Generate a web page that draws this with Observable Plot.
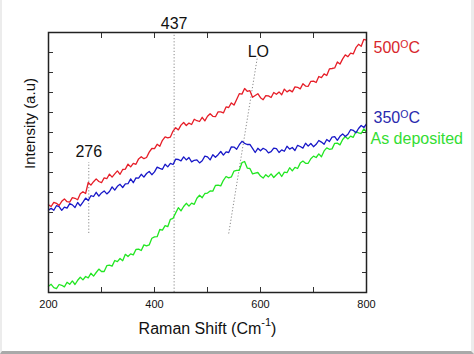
<!DOCTYPE html>
<html><head><meta charset="utf-8">
<script src="https://cdn.jsdelivr.net/npm/d3@7"></script>
<script src="https://cdn.jsdelivr.net/npm/@observablehq/plot@0.6"></script>
<style>
body{margin:0;background:#fff;}
#wrap{position:relative;width:474px;height:354px;overflow:hidden;background:#fff;}
#wrap::after{content:"";position:absolute;left:0;top:0;width:474px;height:354px;box-sizing:border-box;border-left:2px solid #ececec;border-right:3px solid #ececec;border-bottom:3px solid #a9a9a9;pointer-events:none;}
svg{display:block;}
</style></head><body><div id="wrap"></div>
<script>
// Raman shift grid (cm^-1), one sample every 5 cm^-1
const shift = d3.range(200, 801, 5);

// 500 °C annealed film
const s500 = [4.38,4.30,4.51,4.46,4.35,4.56,4.68,4.54,4.52,4.74,4.71,4.64,4.94,5.04,4.95,5.50,5.37,5.54,5.68,5.55,
5.49,5.73,5.69,5.92,5.77,5.93,6.08,5.91,6.15,6.17,6.42,6.28,6.46,6.41,6.68,6.79,6.69,6.75,7.02,7.20,
7.19,7.41,7.31,7.61,7.78,7.73,7.77,8.07,8.24,8.13,8.37,8.50,8.35,8.47,8.40,8.66,8.59,8.55,8.76,8.58,
8.81,8.94,8.81,8.79,9.03,9.03,8.98,9.28,9.25,9.48,9.37,9.65,9.94,9.92,10.20,10.06,10.09,9.76,9.85,9.94,
9.74,9.64,9.84,9.83,9.75,10.00,9.91,10.03,9.89,10.17,10.03,10.12,10.03,10.28,10.26,10.18,10.44,10.32,10.31,10.56,
10.57,10.50,10.80,10.74,10.93,10.85,11.18,11.20,11.23,11.53,11.42,11.68,11.88,11.79,11.97,11.93,12.24,12.41,12.31,12.66,12.62];

// 350 °C annealed film
const s350 = [4.12,4.21,4.11,4.34,4.29,4.11,4.27,4.22,4.44,4.38,4.25,4.50,4.33,4.52,4.72,4.60,4.84,4.80,5.01,4.82,
4.98,5.08,4.93,5.05,5.28,5.12,5.31,5.41,5.25,5.43,5.44,5.68,5.49,5.73,5.72,5.91,5.77,5.95,6.05,5.89,
6.03,6.27,6.21,6.16,6.41,6.28,6.46,6.40,6.67,6.65,6.58,6.78,6.63,6.75,6.53,6.61,6.63,6.48,6.59,6.82,
6.78,6.63,6.89,6.76,6.89,7.05,6.87,7.03,7.00,7.28,7.27,7.16,7.39,7.56,7.46,7.40,7.41,7.21,7.00,7.21,
7.09,7.21,7.14,6.98,7.04,7.22,7.19,7.00,7.13,7.06,7.31,7.17,7.25,7.10,7.36,7.30,7.22,7.46,7.32,7.45,
7.29,7.41,7.60,7.52,7.41,7.65,7.55,7.77,7.79,7.61,7.81,7.93,7.80,7.91,8.14,8.11,7.98,8.20,8.35,8.25,8.43];

// As-deposited film
const sDep = [0.31,0.41,0.24,0.19,0.40,0.36,0.28,0.51,0.41,0.58,0.40,0.61,0.76,0.63,0.80,0.73,0.96,0.82,1.00,1.17,
1.05,1.05,1.34,1.37,1.32,1.60,1.54,1.70,1.59,1.91,1.80,1.93,1.88,2.15,2.17,2.10,2.38,2.33,2.38,2.71,
2.78,2.79,3.15,3.12,3.34,3.29,3.66,3.71,3.98,4.24,4.08,4.30,4.46,4.32,4.47,4.41,4.71,4.86,4.74,4.95,
4.97,5.08,5.07,5.35,5.37,5.33,5.61,5.80,5.73,5.78,6.07,6.11,6.11,6.49,6.55,6.22,6.20,5.93,5.97,6.00,
5.82,5.72,5.89,5.78,5.93,5.75,5.89,6.01,5.80,6.02,5.99,6.24,6.08,6.26,6.20,6.47,6.57,6.46,6.46,6.69,
6.82,6.75,6.93,6.79,7.08,7.23,7.16,7.18,7.46,7.47,7.38,7.65,7.80,7.68,7.82,7.76,8.04,7.98,7.95,8.18,8.02];

const xTickLabels = [200, 400, 600, 800];
const xInnerTicks = [300, 400, 500, 600, 700];
const yInnerTicks = [1,2,3,4,5,6,7,8,9,10,11,12];
const peakNames = ["276", "437", "LO"];
const seriesNames = ["500°C", "350°C", "As deposited"];

const FONT = "Arial, 'Liberation Sans', Helvetica, sans-serif";
const RED = "#e61e28", BLUE = "#1818c8", GREEN = "#22e622";
const dotted = {stroke: "#8a8a8a", strokeWidth: 1, strokeDasharray: "1.2,2"};

const chart = Plot.plot({
  width: 474, height: 354,
  marginLeft: 48, marginRight: 108, marginTop: 32, marginBottom: 62,
  style: {fontFamily: FONT, background: "transparent", color: "#111"},
  x: {domain: [200, 800], axis: null},
  y: {domain: [0, 13], axis: null},
  marks: [
    // inner ticks
    Plot.axisX(xInnerTicks, {anchor: "bottom", tickSize: -5, tickFormat: () => "", stroke: "#333"}),
    Plot.axisX(xInnerTicks, {anchor: "top", tickSize: -5, tickFormat: () => "", stroke: "#333"}),
    Plot.axisY(yInnerTicks, {anchor: "left", tickSize: -5, tickFormat: () => "", stroke: "#333"}),
    Plot.axisY(yInnerTicks, {anchor: "right", tickSize: -5, tickFormat: () => "", stroke: "#333"}),
    Plot.axisX(xTickLabels, {anchor: "bottom", tickSize: 0, tickPadding: 8, fontSize: 11, label: null}),
    // peak guide lines
    Plot.ruleX([276], {x: d => d, y1: 2.95, y2: 6.5, ...dotted}),
    Plot.ruleX([437], {x: d => d, y1: 0, y2: 13, ...dotted}),
    Plot.link([0], {x1: 540, y1: 2.95, x2: 594, y2: 11.75, ...dotted}),
    // spectra
    Plot.line(sDep, {x: (d, i) => shift[i], y: d => d, stroke: GREEN, strokeWidth: 1.3}),
    Plot.line(s350, {x: (d, i) => shift[i], y: d => d, stroke: BLUE, strokeWidth: 1.3}),
    Plot.line(s500, {x: (d, i) => shift[i], y: d => d, stroke: RED, strokeWidth: 1.3}),
    Plot.frame({stroke: "#222", strokeWidth: 1.5}),
    // peak labels
    Plot.text([peakNames[0]], {x: 276, y: 7.05, fontSize: 16, fill: "#111"}),
    Plot.text([peakNames[1]], {x: 437, y: 13.45, fontSize: 16, fill: "#111"}),
    Plot.text([peakNames[2]], {x: 596, y: 12.05, fontSize: 16, fill: "#111"}),
    // series labels
    Plot.text([seriesNames[0]], {frameAnchor: "right", y: 12.25, dx: 7, textAnchor: "start", fontSize: 16, fill: "#d8262c"}),
    Plot.text([seriesNames[1]], {frameAnchor: "right", y: 8.72, dx: 7, textAnchor: "start", fontSize: 16, fill: "#2a2aae"}),
    Plot.text([seriesNames[2]], {frameAnchor: "right", y: 7.7, dx: 4, textAnchor: "start", fontSize: 16, fill: "#33dd33"}),
    // axis titles
    Plot.text(["Raman Shift (Cm-1)"], {frameAnchor: "bottom", dy: 41, fontSize: 16, fill: "#111"}),
    Plot.text(["Intensity (a.u)"], {frameAnchor: "left", y: 6.18, dx: -18.5, rotate: -90, fontSize: 15, fill: "#111"})
  ]
});

// superscripts
d3.select(chart).selectAll("text").each(function() {
  const t = this.textContent;
  if (t === "500°C" || t === "350°C") {
    this.innerHTML = t.slice(0, 3) + '<tspan dy="-5" font-size="10.5">O</tspan><tspan dy="5">C</tspan>';
  } else if (t === "Raman Shift (Cm-1)") {
    this.innerHTML = 'Raman Shift (Cm<tspan dy="-8" font-size="11">-1</tspan><tspan dy="8">)</tspan>';
  }
});

document.getElementById("wrap").appendChild(chart);
</script>
</body></html>
